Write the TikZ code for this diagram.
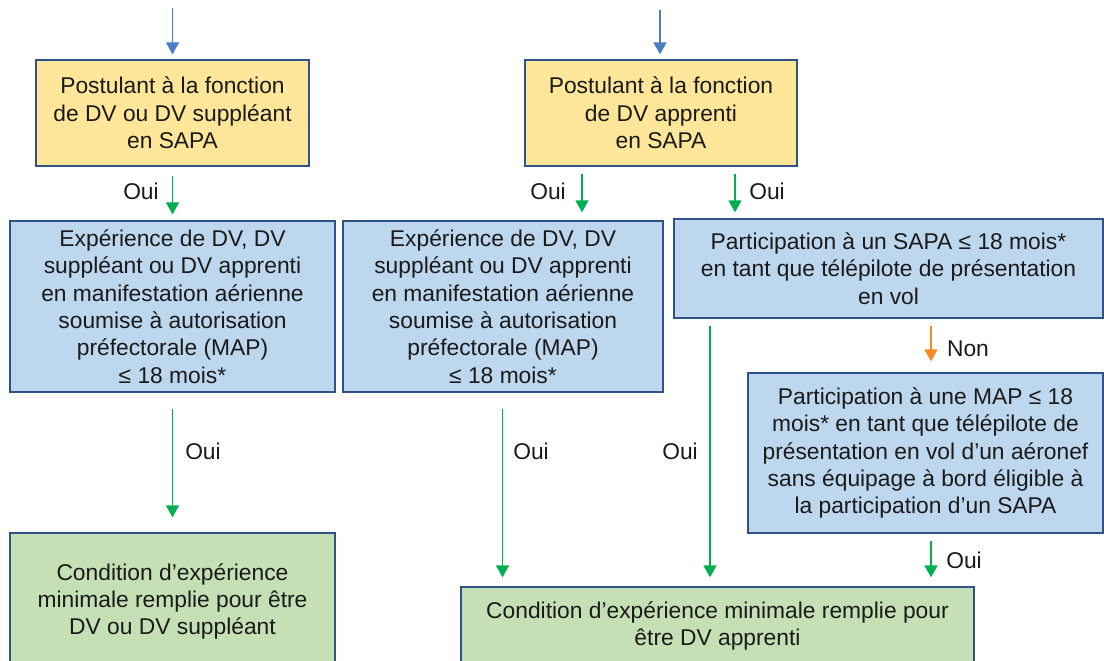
\documentclass[tikz,border=0pt]{standalone}
\usepackage{fontspec}
\setmainfont{Liberation Sans}
\usetikzlibrary{arrows.meta,calc}
\definecolor{yel}{HTML}{FFE699}
\definecolor{blu}{HTML}{BDD7EE}
\definecolor{grn}{HTML}{C5E0B4}
\definecolor{bord}{HTML}{2F5289}
\definecolor{txt}{HTML}{1A1A1A}
\definecolor{arrblue}{HTML}{4A7EC4}
\definecolor{arrgreen}{HTML}{00B050}
\definecolor{arrorange}{HTML}{F58A1F}
\begin{document}
\begin{tikzpicture}[x=1pt,y=-1pt,
  box/.style={draw=bord,line width=1.3pt,align=center,inner sep=0pt,
    font=\fontsize{22.8}{27.3}\selectfont,text=txt},
  lbl/.style={font=\fontsize{22.8}{27}\selectfont,text=txt,inner sep=0pt},
  arr/.style={line width=1.4pt,-{Triangle[width=13pt,length=12pt]}},
  barr/.style={arr,draw=arrblue,fill=arrblue},
  garr/.style={arr,draw=arrgreen,fill=arrgreen},
  oarr/.style={arr,draw=arrorange,fill=arrorange},
]
\useasboundingbox (0,0) rectangle (1104,661);
\clip (0,0) rectangle (1104,661);

% boxes
\node[box,fill=yel,minimum width=273pt,minimum height=106pt] (Y1) at (172.5,113)
  {Postulant à la fonction\\de DV ou DV suppléant\\en SAPA};
\node[box,fill=yel,minimum width=272pt,minimum height=106pt] (Y2) at (661,113)
  {Postulant à la fonction\\de DV apprenti\\en SAPA};
\node[box,fill=blu,minimum width=325pt,minimum height=171pt] (B1) at (172.5,306.5)
  {Expérience de DV, DV\\suppléant ou DV apprenti\\en manifestation aérienne\\soumise à autorisation\\préfectorale (MAP)\\≤ 18 mois*};
\node[box,fill=blu,minimum width=320pt,minimum height=171pt] (B2) at (503,306.5)
  {Expérience de DV, DV\\suppléant ou DV apprenti\\en manifestation aérienne\\soumise à autorisation\\préfectorale (MAP)\\≤ 18 mois*};
\node[box,fill=blu,minimum width=429pt,minimum height=99pt] (B3) at (888.5,268.5)
  {Participation à un SAPA ≤ 18 mois*\\en tant que télépilote de présentation\\en vol};
\node[box,fill=blu,minimum width=355pt,minimum height=160pt] (B4) at (925.5,453)
  {Participation à une MAP ≤ 18\\mois* en tant que télépilote de\\présentation en vol d’un aéronef\\sans équipage à bord éligible à\\la participation d’un SAPA};
\node[box,fill=grn,minimum width=325pt,minimum height=137pt] (G1) at (172.5,601.5)
  {Condition d’expérience\\minimale remplie pour être\\DV ou DV suppléant};
\node[box,fill=grn,minimum width=513pt,minimum height=78pt] (G2) at (717.5,626)
  {Condition d’expérience minimale remplie pour\\être DV apprenti};

% entry arrows
\coordinate (s1) at (172.5,8);
\coordinate (s2) at (660,10);
\draw[barr,shorten >=5pt] (s1) -- (s1 |- Y1.north);
\draw[barr,shorten >=5pt] (s2) -- (s2 |- Y2.north);

% connectors
\draw[garr,shorten <=9pt,shorten >=6pt] (Y1.south) -- (B1.north);
\draw[garr,shorten <=7pt,shorten >=8pt] ([xshift=-79pt]Y2.south) -- ([xshift=-79pt]Y2.south |- B2.north);
\draw[garr,shorten <=7pt,shorten >=6pt] ([xshift=74pt]Y2.south) -- ([xshift=74pt]Y2.south |- B3.north);
\draw[garr,shorten <=16pt,shorten >=15pt] (B1.south) -- (B1.south |- G1.north);
\draw[garr,shorten <=16pt,shorten >=9pt] ([xshift=-0.5pt]B2.south) -- ([xshift=-0.5pt]B2.south |- G2.north);
\draw[garr,shorten <=7pt,shorten >=9pt] ([xshift=-178.5pt]B3.south) -- ([xshift=-178.5pt]B3.south |- G2.north);
\draw[oarr,shorten <=7pt,shorten >=11pt] ([xshift=42.5pt]B3.south) -- ([xshift=42.5pt]B3.south |- B4.north);
\draw[garr,shorten <=7pt,shorten >=9pt] ([xshift=5.5pt]B4.south) -- ([xshift=5.5pt]B4.south |- G2.north);

% labels
\node[lbl] (l1) at (141,191) {Oui};
\node[lbl] (l2) at (548,191) {Oui};
\node[lbl] (l3) at (767,191) {Oui};
\node[lbl] (l4) at (203,451) {Oui};
\node[lbl] (l5) at (531,451) {Oui};
\node[lbl] (l6) at (680,451) {Oui};
\node[lbl] (l7) at (968,349) {Non};
\node[lbl] (l8) at (964,560) {Oui};
\end{tikzpicture}
\end{document}
